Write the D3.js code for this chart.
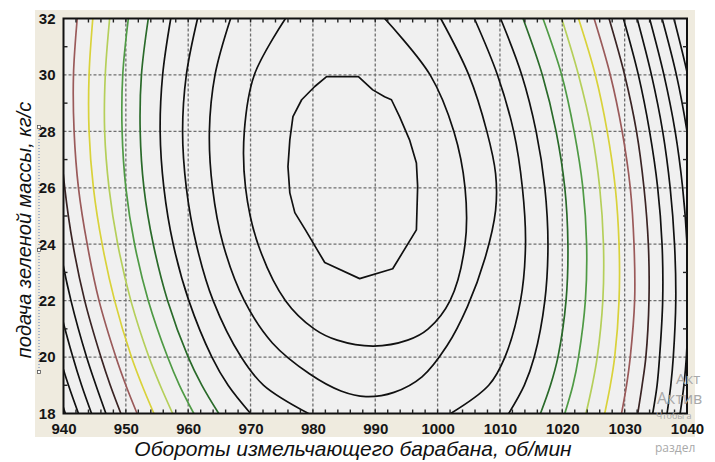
<!DOCTYPE html>
<html><head><meta charset="utf-8">
<script src="https://cdn.jsdelivr.net/npm/d3@7"></script>
<style>
html,body{margin:0;padding:0;background:#fff;}
svg{display:block;}
</style></head><body>
<script>
// ---------- data ----------
const xTicks = [940, 950, 960, 970, 980, 990, 1000, 1010, 1020, 1030, 1040];
const yTicks = [18, 20, 22, 24, 26, 28, 30, 32];
const xTitle = "Обороты измельчающего барабана, об/мин";
const yTitle = "подача зеленой массы, кг/с";

// feed values (kg/s) at which the side contour crossings (rpm) were read
const feedRows = [32, 30, 28, 26, 24, 22, 20, 19, 18];

const left4  = [961.5, 959.7, 959.1, 959.7, 961.3, 964.0, 968.5, 972.1, 979.3];
const right4 = [1005.9, 1009.6, 1012.2, 1013.6, 1014.1, 1013.3, 1010.8, 1008.2, 1002.1];
const left5  = [957.2, 955.9, 955.5, 956.1, 957.6, 960.1, 963.8, 966.4, 970.0];
const right5 = [1010.1, 1013.5, 1015.8, 1017.2, 1017.7, 1017.2, 1015.5, 1013.9, 1011.4];
const left6  = [953.6, 952.5, 952.3, 952.9, 954.4, 956.7, 960.0, 962.2, 964.9];
const right6 = [1013.7, 1016.8, 1019.0, 1020.4, 1020.9, 1020.6, 1019.3, 1018.1, 1016.5];
const left7  = [950.4, 949.5, 949.4, 950.0, 951.4, 953.6, 956.7, 958.6, 960.9];
const right7 = [1016.9, 1019.9, 1021.9, 1023.3, 1023.9, 1023.7, 1022.6, 1021.7, 1020.4];
const left8  = [947.4, 946.7, 946.6, 947.3, 948.7, 950.8, 953.7, 955.5, 957.5];
const right8 = [1019.9, 1022.6, 1024.7, 1026.0, 1026.6, 1026.5, 1025.6, 1024.8, 1023.8];
const left9  = [944.7, 944.1, 944.1, 944.8, 946.2, 948.2, 950.9, 952.6, 954.5];
const right9 = [1022.6, 1025.3, 1027.2, 1028.5, 1029.1, 1029.1, 1028.4, 1027.7, 1026.8];
const left10  = [942.2, 941.6, 941.7, 942.4, 943.8, 945.7, 948.4, 950.0, 951.8];
const right10 = [1025.1, 1027.7, 1029.6, 1030.9, 1031.5, 1031.6, 1030.9, 1030.3, 1029.5];
const left11  = [939.8, 939.3, 939.4, 940.2, 941.5, 943.4, 946.0, 947.5, 949.2];
const right11 = [1027.5, 1030.0, 1031.9, 1033.1, 1033.8, 1033.9, 1033.4, 1032.8, 1032.1];
const left12  = [937.5, 937.1, 937.3, 938.0, 939.3, 941.2, 943.7, 945.2, 946.8];
const right12 = [1029.8, 1032.2, 1034.0, 1035.3, 1036.0, 1036.1, 1035.6, 1035.2, 1034.5];
const left13  = [935.3, 935.0, 935.2, 936.0, 937.3, 939.1, 941.5, 942.9, 944.5];
const right13 = [1032.0, 1034.3, 1036.1, 1037.3, 1038.0, 1038.2, 1037.8, 1037.4, 1036.8];
const left14  = [933.3, 933.0, 933.2, 934.0, 935.3, 937.1, 939.4, 940.8, 942.4];
const right14 = [1034.0, 1036.3, 1038.1, 1039.3, 1040.0, 1040.2, 1039.9, 1039.5, 1038.9];
const left15  = [931.3, 931.0, 931.3, 932.1, 933.4, 935.1, 937.4, 938.8, 940.3];
const right15 = [1036.0, 1038.3, 1040.0, 1041.2, 1041.9, 1042.2, 1041.9, 1041.5, 1041.0];
const right16 = [1037.9, 1040.1, 1041.8, 1043.1, 1043.8, 1044.0, 1043.8, 1043.5, 1043.0];

const sideLines  = [left4, right4, left5, right5, left6, right6, left7, right7, left8, right8,
                    left9, right9, left10, right10, left11, right11, left12, right12,
                    left13, right13, left14, right14, left15, right15, right16];
const sideLevels = [4, 4, 5, 5, 6, 6, 7, 7, 8, 8, 9, 9, 10, 10, 11, 11, 12, 12, 13, 13, 14, 14, 15, 15, 16];

// inner contours as [rpm, feed] points
const ring1 = [[982.2,29.94],[987.3,29.94],[989.6,29.47],[991.5,29.23],[992.6,29.12],[993.9,28.52],
  [995.5,27.70],[996.6,26.88],[996.8,26.05],[996.6,24.51],[992.8,23.13],[987.5,22.78],[981.9,23.35],
  [978.8,24.51],[977.1,25.12],[976.3,25.82],[976.0,26.75],[976.3,27.70],[976.8,28.52],[978.2,29.12],[980.3,29.59]];
const ring2 = [[975.6,32],[970.6,30],[969.0,28],[969.2,26],[971.2,24],[975.6,22],[980.2,21],[983.9,20.6],
  [989.7,20.39],[995.2,20.6],[998.5,21],[1002.0,22],[1004.4,24],[1004.4,26],[1002.6,28],[998.8,30],[991.5,32]];
const ring3 = [[966.8,32],[964.3,30],[963.4,28],[963.9,26],[965.6,24],[969.0,22],[973.5,20.5],[979.5,19.4],
  [984.5,18.8],[988.5,18.6],[993.0,18.75],[997.5,19.3],[1001.5,20.4],[1004.8,21.8],[1007.6,23.5],
  [1009.3,25.2],[1009.3,26.5],[1007.9,28],[1005.0,30],[1000.5,32]];

// line colour of each contour level (1 = innermost)
const levelColors = ["#111", "#111", "#111", "#111", "#111", "#2a6a2a", "#4f9a45", "#b5cf5a",
                     "#d9d23a", "#9a5a5a", "#3a2424", "#111", "#111", "#111", "#111", "#111"];

// ---------- drawing ----------
const W = 715, H = 462;
const svg = d3.select("body").append("svg").attr("width", W).attr("height", H);
const x = d3.scaleLinear().domain([940, 1040]).range([63.5, 687]);
const y = d3.scaleLinear().domain([18, 32]).range([413.5, 18.5]);
const FONT = "'Liberation Sans', Arial, sans-serif";

svg.append("rect").attr("x", 35).attr("y", 10).attr("width", 660).attr("height", 427).attr("fill", "#efebdf");
svg.append("rect").attr("x", x(940)).attr("y", y(32)).attr("width", x(1040) - x(940)).attr("height", y(18) - y(32)).attr("fill", "#f0f0f0");

svg.append("clipPath").attr("id", "plotClip").append("rect")
  .attr("x", x(940)).attr("y", y(32)).attr("width", x(1040) - x(940)).attr("height", y(18) - y(32));

// grid
const grid = svg.append("g").attr("stroke", "#6f6f6f").attr("stroke-width", 1.3).attr("stroke-dasharray", "3,2");
xTicks.slice(1, -1).forEach(v => grid.append("line").attr("x1", x(v)).attr("x2", x(v)).attr("y1", y(32)).attr("y2", y(18)));
yTicks.slice(1, -1).forEach(v => grid.append("line").attr("y1", y(v)).attr("y2", y(v)).attr("x1", x(940)).attr("x2", x(1040)));

// contours
const cg = svg.append("g").attr("clip-path", "url(#plotClip)").attr("fill", "none").attr("stroke-width", 1.7).attr("stroke-linejoin", "round");
const lineSmooth = d3.line().x(d => x(d[0])).y(d => y(d[1])).curve(d3.curveCatmullRom.alpha(0.5));
const lineClosed = d3.line().x(d => x(d[0])).y(d => y(d[1])).curve(d3.curveLinearClosed);
sideLines.forEach((arr, i) => {
  const pts = arr.map((v, j) => [v, feedRows[j]]);
  cg.append("path").attr("d", lineSmooth(pts)).attr("stroke", levelColors[sideLevels[i] - 1]);
});
cg.append("path").attr("d", lineClosed(ring1)).attr("stroke", levelColors[0]);
cg.append("path").attr("d", lineSmooth(ring2)).attr("stroke", levelColors[1]);
cg.append("path").attr("d", lineSmooth(ring3)).attr("stroke", levelColors[2]);

// frame
svg.append("rect").attr("x", x(940)).attr("y", y(32)).attr("width", x(1040) - x(940)).attr("height", y(18) - y(32))
  .attr("fill", "none").attr("stroke", "#111").attr("stroke-width", 2);

// minor ticks
const mt = svg.append("g").attr("stroke", "#222").attr("stroke-width", 1.4);
d3.range(942, 1040, 2).forEach(v => {
  mt.append("line").attr("x1", x(v)).attr("x2", x(v)).attr("y1", y(32)).attr("y2", y(32) + 4);
  mt.append("line").attr("x1", x(v)).attr("x2", x(v)).attr("y1", y(18)).attr("y2", y(18) - 4);
});
d3.range(19, 32, 2).forEach(v => {
  mt.append("line").attr("y1", y(v)).attr("y2", y(v)).attr("x1", x(940)).attr("x2", x(940) + 4);
  mt.append("line").attr("y1", y(v)).attr("y2", y(v)).attr("x1", x(1040)).attr("x2", x(1040) - 4);
});

// axes labels (d3 axes, no lines)
const xAxis = svg.append("g").attr("transform", `translate(0,${y(18)})`)
  .call(d3.axisBottom(x).tickValues(xTicks).tickSize(0).tickPadding(10).tickFormat(d3.format("d")));
const yAxis = svg.append("g").attr("transform", `translate(${x(940)},0)`)
  .call(d3.axisLeft(y).tickValues(yTicks).tickSize(0).tickPadding(8).tickFormat(d3.format("d")));
[xAxis, yAxis].forEach(a => {
  a.select(".domain").remove();
  a.selectAll("text").attr("font-family", FONT).attr("font-size", 15).attr("font-weight", "bold").attr("fill", "#151515");
});

// titles
svg.append("text").attr("x", 353).attr("y", 456).attr("text-anchor", "middle")
  .attr("font-family", FONT).attr("font-size", 21).attr("font-style", "italic").attr("fill", "#111").text(xTitle);
svg.append("text").attr("transform", "translate(31,230) rotate(-90)").attr("text-anchor", "middle")
  .attr("font-family", FONT).attr("font-size", 20).attr("font-style", "italic").attr("fill", "#111").text(yTitle);

// selection marks of the editor (dotted line with handles)
svg.append("line").attr("x1", 39).attr("x2", 39).attr("y1", 127).attr("y2", 372)
  .attr("stroke", "#5b7fbf").attr("stroke-width", 1).attr("stroke-dasharray", "1,2");
[127, 250, 372].forEach(v => svg.append("rect").attr("x", 37.5).attr("y", v - 1.5).attr("width", 3).attr("height", 3)
  .attr("fill", "#fff").attr("stroke", "#555").attr("stroke-width", 0.8));

// watermark fragments in bottom right corner
const wm = svg.append("g").attr("font-family", "'Open Sans', 'Liberation Sans', sans-serif").attr("fill", "#a9a9a9");
wm.append("text").attr("x", 676).attr("y", 384).attr("font-size", 15).text("Акт");
wm.append("text").attr("x", 657).attr("y", 404).attr("font-size", 16).text("Актив");
wm.append("text").attr("x", 656).attr("y", 419).attr("font-size", 9).text("Чтобы а");
wm.append("text").attr("x", 655).attr("y", 452).attr("font-size", 12).text("раздел");
</script>
</body></html>
